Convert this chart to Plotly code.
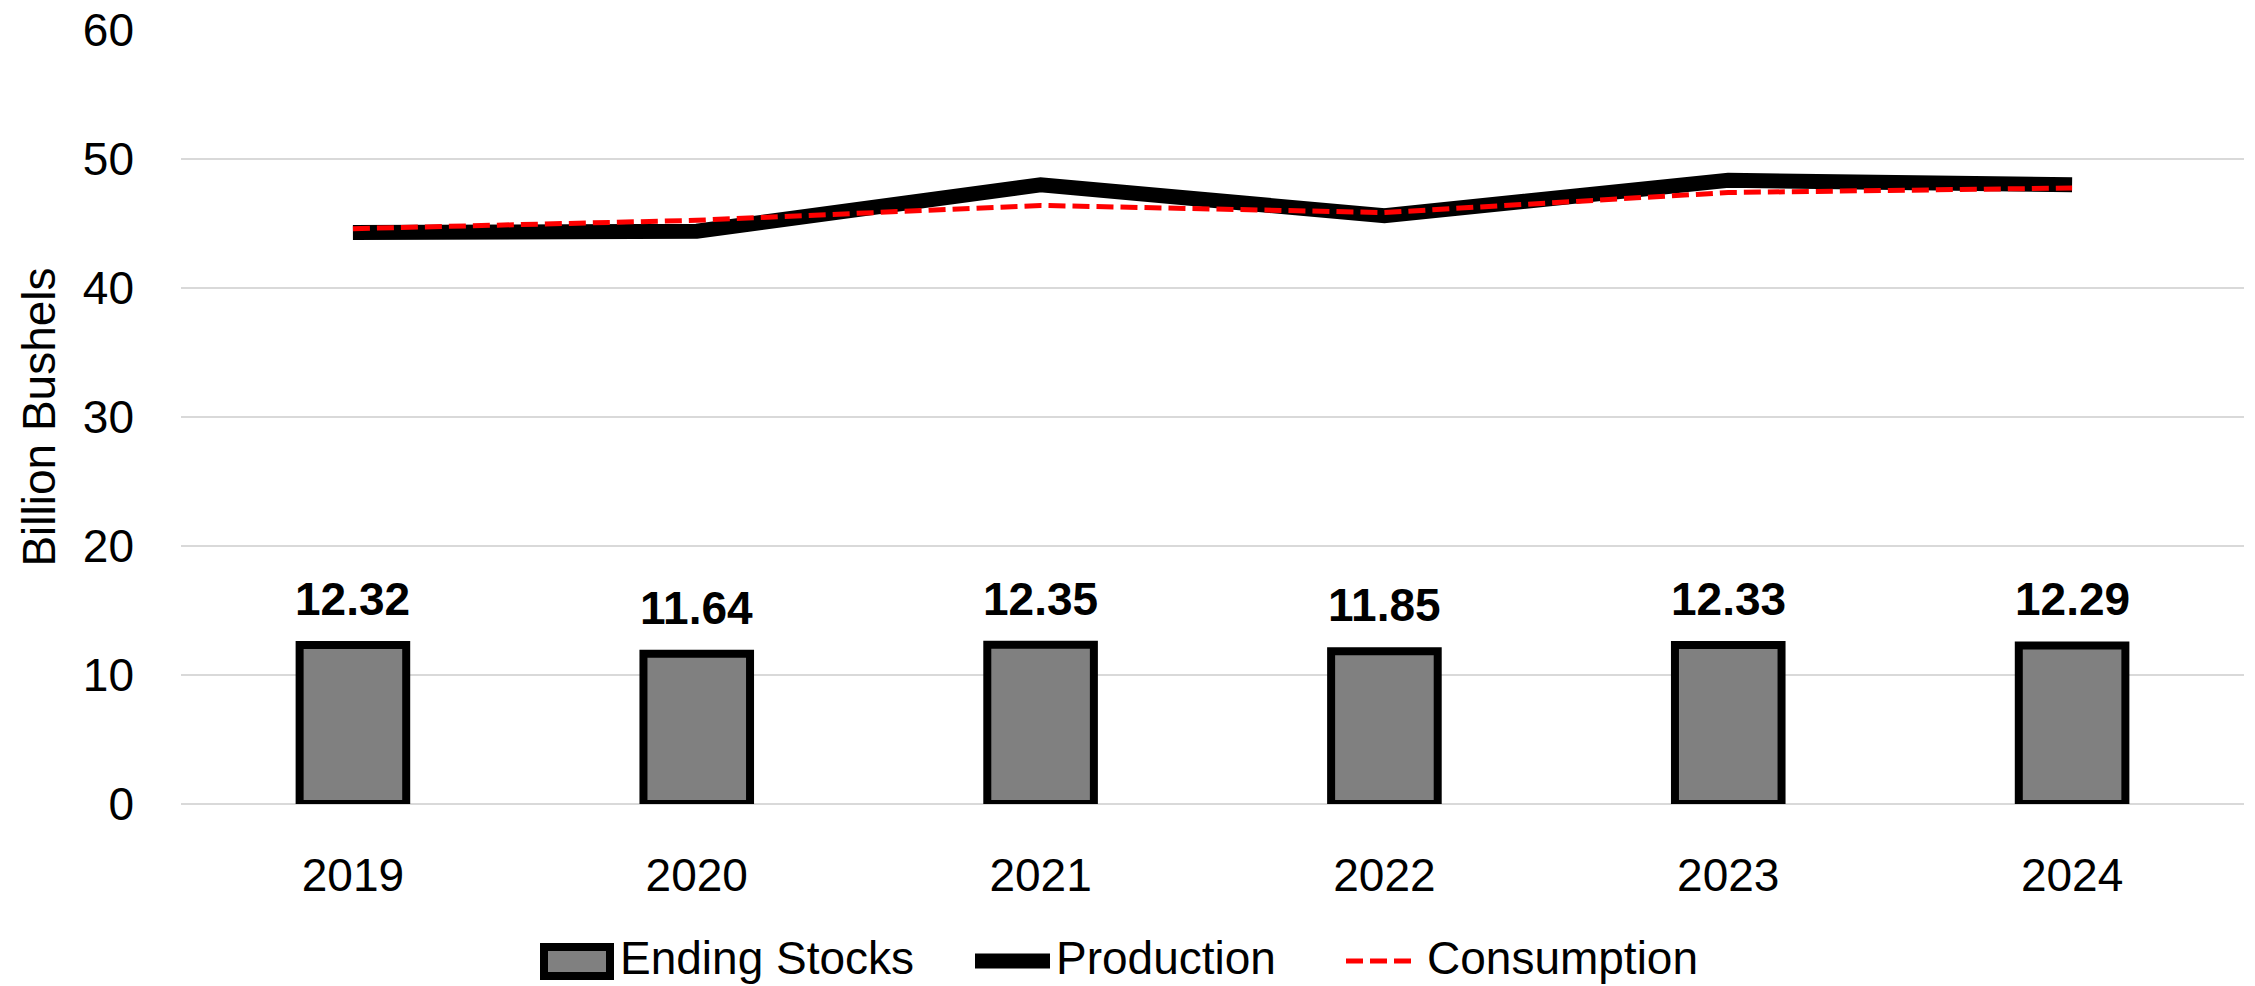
import plotly.graph_objects as go

# Data (billion bushels)
years = ["2019", "2020", "2021", "2022", "2023", "2024"]
ending_stocks = [12.32, 11.64, 12.35, 11.85, 12.33, 12.29]
production = [44.3, 44.4, 48.0, 45.6, 48.35, 48.0]
consumption = [44.6, 45.25, 46.4, 45.85, 47.4, 47.75]
y_ticks = [0, 10, 20, 30, 40, 50, 60]

W, H = 2255, 986
L, R, T, B = 181, 11, 30, 182
FONT = "Liberation Sans, Arial, sans-serif"
GRID = "#d9d9d9"


def px_x(x):
    return (x - L) / (W - L - R)


def px_y(y):
    return (H - B - y) / (H - T - B)


fig = go.Figure()

fig.add_trace(go.Bar(
    x=years, y=ending_stocks, name="Ending Stocks", width=0.31,
    marker=dict(color="#808080", line=dict(color="#000000", width=8)),
    showlegend=False,
))
fig.add_trace(go.Scatter(
    x=years, y=production, name="Production", mode="lines",
    line=dict(color="#000000", width=15), showlegend=False,
))
fig.add_trace(go.Scatter(
    x=years, y=consumption, name="Consumption", mode="lines",
    line=dict(color="#ff0000", width=5, dash="17px,7px"), showlegend=False,
))

# value labels above bars (category index positions)
for i, v in enumerate(ending_stocks):
    fig.add_annotation(
        x=i, y=v, xref="x", yref="y", text=f"<b>{v:.2f}</b>", showarrow=False,
        yanchor="bottom", yshift=18,
        font=dict(family=FONT, size=46, color="#000000"),
    )

# legend drawn below the axis
ly = px_y(961)
fig.add_shape(type="rect", xref="paper", yref="paper",
              x0=px_x(544), x1=px_x(610), y0=px_y(976), y1=px_y(947),
              fillcolor="#808080", line=dict(color="#000000", width=8))
fig.add_shape(type="line", xref="paper", yref="paper",
              x0=px_x(975), x1=px_x(1050), y0=ly, y1=ly,
              line=dict(color="#000000", width=15))
fig.add_shape(type="line", xref="paper", yref="paper",
              x0=px_x(1346), x1=px_x(1416), y0=ly, y1=ly,
              line=dict(color="#ff0000", width=5, dash="17px,7px"))
for label, x0 in [("Ending Stocks", 618), ("Production", 1054), ("Consumption", 1425)]:
    fig.add_annotation(
        xref="paper", yref="paper", x=px_x(x0), y=px_y(958), text=label,
        showarrow=False, xanchor="left", yanchor="middle",
        font=dict(family=FONT, size=46, color="#000000"),
    )

fig.update_layout(
    width=W, height=H,
    margin=dict(l=L, r=R, t=T, b=B, autoexpand=False),
    plot_bgcolor="#ffffff", paper_bgcolor="#ffffff",
    font=dict(family=FONT, size=46, color="#000000"),
    showlegend=False,
    xaxis=dict(
        type="category", range=[-0.5, 5.5], showgrid=False, showline=False,
        ticks="", ticklabelstandoff=40, tickfont=dict(size=46),
    ),
    yaxis=dict(
        range=[0, 60], tickvals=y_ticks, showgrid=True, gridcolor=GRID, gridwidth=2,
        zeroline=True, zerolinecolor=GRID, zerolinewidth=2, showline=False,
        ticks="", ticklabelstandoff=46, tickfont=dict(size=46),
        title=dict(text="Billion Bushels", font=dict(size=46), standoff=12),
    ),
)

fig.write_html("out.html")
